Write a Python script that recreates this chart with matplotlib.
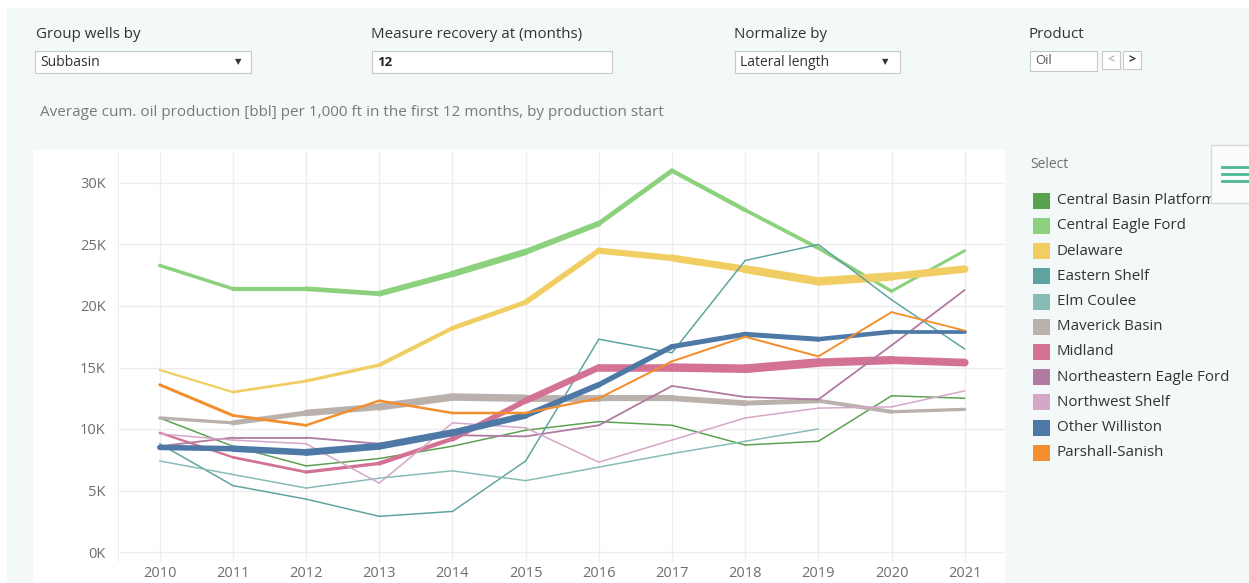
import numpy as np
import matplotlib.pyplot as plt
from matplotlib.collections import LineCollection
from matplotlib.patches import Rectangle

plt.rcParams['font.family'] = ['Open Sans', 'DejaVu Sans']

# Data (thousand bbl per 1,000 ft, first 12 months)
years = list(range(2010, 2022))
series_names = ["Central Basin Platform", "Central Eagle Ford", "Delaware", "Eastern Shelf",
                "Elm Coulee", "Maverick Basin", "Midland", "Northeastern Eagle Ford",
                "Northwest Shelf", "Other Williston", "Parshall-Sanish"]

central_basin_platform = [10.9, 8.6, 7.0, 7.6, 8.6, 9.9, 10.6, 10.3, 8.7, 9.0, 12.7, 12.5]
central_eagle_ford = [23.3, 21.4, 21.4, 21.0, 22.6, 24.4, 26.7, 31.0, 27.8, 24.7, 21.2, 24.5]
delaware = [14.8, 13.0, 13.9, 15.2, 18.2, 20.3, 24.5, 23.9, 23.0, 22.0, 22.4, 23.0]
eastern_shelf = [8.8, 5.4, 4.3, 2.9, 3.3, 7.4, 17.3, 16.2, 23.7, 25.0, 20.5, 16.5]
elm_coulee = [7.4, 6.3, 5.2, 6.0, 6.6, 5.8, 6.9, 8.0, 9.0, 10.0, np.nan, np.nan]
maverick_basin = [10.9, 10.5, 11.3, 11.8, 12.6, 12.5, 12.5, 12.5, 12.1, 12.3, 11.4, 11.6]
midland = [9.7, 7.7, 6.5, 7.2, 9.2, 12.3, 15.0, 15.0, 14.9, 15.4, 15.6, 15.4]
northeastern_eagle_ford = [8.6, 9.3, 9.3, 8.8, 9.5, 9.4, 10.3, 13.5, 12.6, 12.4, 16.8, 21.3]
northwest_shelf = [9.6, 9.1, 8.8, 5.6, 10.5, 10.1, 7.3, 9.1, 10.9, 11.7, 11.8, 13.1]
other_williston = [8.5, 8.4, 8.1, 8.6, 9.7, 11.1, 13.6, 16.7, 17.7, 17.3, 17.9, 17.9]
parshall_sanish = [13.6, 11.1, 10.3, 12.3, 11.3, 11.3, 12.5, 15.5, 17.5, 15.9, 19.5, 18.0]

# relative well count per year (drives line thickness)
cbp_size = [1.5] * 12
cef_size = [3, 4, 4.5, 5, 6.5, 6.5, 5, 4.5, 4, 3.5, 3, 3]
delaware_size = [2, 2.5, 3, 3.5, 4.5, 5, 6, 6.5, 7.5, 9, 8, 7]
eastern_size = [1.5] * 12
elm_size = [1.5] * 12
maverick_size = [2.5, 4, 6, 7, 8, 7, 6.5, 6, 5.5, 4.5, 3.5, 3]
midland_size = [2, 2.5, 3, 3.5, 5, 6, 7, 8, 9, 8.5, 8, 7.5]
neef_size = [1.8] * 12
nws_size = [1.5] * 12
williston_size = [5, 6, 7, 7, 7, 6, 5.5, 5, 5, 5, 4, 3.5]
parshall_size = [3, 3, 2.5, 2.5, 2.5, 2.5, 2, 2, 2, 2, 1.8, 1.8]

values = [central_basin_platform, central_eagle_ford, delaware, eastern_shelf, elm_coulee,
          maverick_basin, midland, northeastern_eagle_ford, northwest_shelf, other_williston,
          parshall_sanish]
sizes = [cbp_size, cef_size, delaware_size, eastern_size, elm_size, maverick_size,
         midland_size, neef_size, nws_size, williston_size, parshall_size]
colors = ["#59A14F", "#8CD17D", "#F1CE63", "#5FA39F", "#86BCB6", "#BAB0AC",
          "#D37295", "#B07AA1", "#D4A6C8", "#4E79A7", "#F28E2B"]

W, H = 1249, 583


def fx(x):
    return x / W


def fy(y):
    return 1 - y / H


fig = plt.figure(figsize=(W / 100, H / 100), dpi=100)
fig.patch.set_facecolor("white")

# dashboard background and white chart panel
fig.patches.append(Rectangle((fx(7), 0), 1, fy(8), transform=fig.transFigure,
                             facecolor="#F3F8F9", edgecolor="none", zorder=-10))
fig.patches.append(Rectangle((fx(33), 0), fx(1005) - fx(33), fy(150), transform=fig.transFigure,
                             facecolor="white", edgecolor="none", zorder=-9))

# controls
label_kw = dict(fontsize=10.9, color="#333333", va="center")
inbox_kw = dict(fontsize=10, color="#333333", va="center")
box_kw = dict(transform=fig.transFigure, facecolor="white", edgecolor="#C8C8C8", lw=0.8)


def box(x0, y0, x1, y1):
    fig.patches.append(Rectangle((fx(x0), fy(y1)), fx(x1) - fx(x0), fy(y0) - fy(y1), **box_kw))


fig.text(fx(36), fy(35), "Group wells by", **label_kw)
box(35, 51, 251, 73)
fig.text(fx(40), fy(62), "Subbasin", **inbox_kw)
fig.text(fx(238), fy(62), "▼", fontsize=6, color="#333333", va="center", ha="center",
         family=["DejaVu Sans"])

fig.text(fx(371), fy(35), "Measure recovery at (months)", **label_kw)
box(372, 51, 612, 73)
fig.text(fx(377), fy(62), "12", fontsize=9.5, color="#222222", va="center", weight="bold")

fig.text(fx(734), fy(35), "Normalize by", **label_kw)
box(735, 51, 900, 73)
fig.text(fx(740), fy(62), "Lateral length", **inbox_kw)
fig.text(fx(885), fy(62), "▼", fontsize=6, color="#333333", va="center", ha="center",
         family=["DejaVu Sans"])

fig.text(fx(1029), fy(35), "Product", **label_kw)
box(1030, 51, 1097, 71)
fig.text(fx(1035), fy(61), "Oil", fontsize=9.5, color="#555555", va="center")
box(1102, 51, 1120, 69)
fig.text(fx(1111), fy(60), "<", fontsize=9, color="#BBBBBB", va="center", ha="center", weight="bold")
box(1123, 51, 1141, 69)
fig.text(fx(1132), fy(60), ">", fontsize=9, color="#333333", va="center", ha="center", weight="bold")

fig.text(fx(40), fy(112),
         "Average cum. oil production [bbl] per 1,000 ft in the first 12 months, by production start",
         fontsize=11, color="#7A7A7A", va="center")

# chart
y0_px, y1_px = 152, 562
k_per_px = 1 / 12.3
ax = fig.add_axes([fx(118), fy(y1_px), fx(1005) - fx(118), fy(y0_px) - fy(y1_px)])
ax.set_facecolor("white")
ax.set_xlim(2009.43, 2021.55)
ax.set_ylim(-(y1_px - 552) * k_per_px, (552 - y0_px) * k_per_px)

for vals, size, color in zip(values, sizes, colors):
    v = np.array(vals, dtype=float)
    s = np.array(size, dtype=float)
    segs, lws = [], []
    for i in range(len(years) - 1):
        if np.isnan(v[i]) or np.isnan(v[i + 1]):
            continue
        segs.append([(years[i], v[i]), (years[i + 1], v[i + 1])])
        lws.append((s[i] + s[i + 1]) / 2 * 0.72)
    lc = LineCollection(segs, colors=color, linewidths=lws, capstyle="round",
                        joinstyle="round", zorder=3)
    ax.add_collection(lc)

ax.set_xticks(years)
ax.set_xticklabels([str(y) for y in years])
yt = [0, 5, 10, 15, 20, 25, 30]
ax.set_yticks(yt)
ax.set_yticklabels([f"{t}K" for t in yt])
ax.tick_params(length=0, labelsize=10.5, labelcolor="#6E6E6E")
ax.tick_params(axis="y", pad=9)
ax.tick_params(axis="x", pad=3)
ax.grid(True, color="#EDEDED", lw=1)
ax.set_axisbelow(True)
for sp in ax.spines.values():
    sp.set_visible(False)
ax.axvline(2009.43, color="#EDEDED", lw=1.5)

# legend
fig.text(fx(1030), fy(164), "Select", fontsize=10, color="#707070", va="center")
for i, (name, color) in enumerate(zip(series_names, colors)):
    yc = 200.7 + i * 25.2
    fig.patches.append(Rectangle((fx(1033), fy(yc + 8)), fx(17), 16 / H,
                                 transform=fig.transFigure, facecolor=color, edgecolor="none"))
    fig.text(fx(1057), fy(yc), name, fontsize=10.9, color="#333333", va="center")

# menu button overlapping the legend
fig.patches.append(Rectangle((fx(1211), fy(203)), fx(50), 58 / H, transform=fig.transFigure,
                             facecolor="#FBFDFD", edgecolor="#DADADA", lw=1, zorder=5))
for yl in (167, 174, 181):
    fig.add_artist(plt.Line2D([fx(1222), fx(1249)], [fy(yl), fy(yl)], transform=fig.transFigure,
                              color="#4DB894", lw=2, zorder=6))

fig.savefig("out.png", dpi=100)
